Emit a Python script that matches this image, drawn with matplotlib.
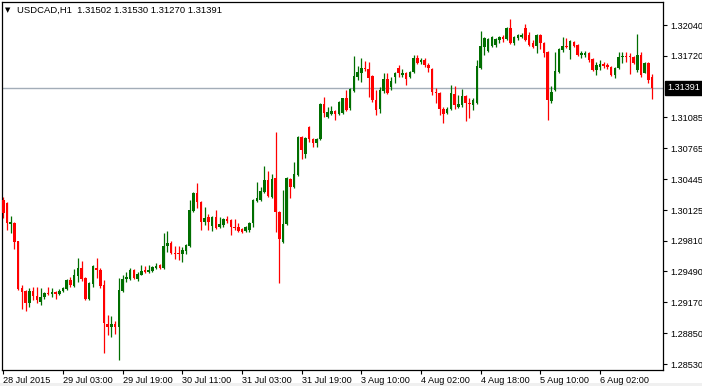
import numpy as np
import matplotlib
matplotlib.use("Agg")
import matplotlib.pyplot as plt
from matplotlib.transforms import blended_transform_factory
from matplotlib.patches import Rectangle

plt.rcParams['font.family'] = ['Liberation Sans', 'DejaVu Sans']

symbol_text = "USDCAD,H1  1.31502 1.31530 1.31270 1.31391"

opens = [1.3023, 1.3020, 1.2998, 1.2999, 1.2981, 1.2932, 1.2929, 1.2916, 1.2929, 1.2924,
         1.2917, 1.2923, 1.2927, 1.2926, 1.2928, 1.2926, 1.2929, 1.2931, 1.2940, 1.2934,
         1.2944, 1.2953, 1.2942, 1.2921, 1.2936, 1.2953, 1.2951, 1.2935, 1.2895, 1.2892,
         1.2895, 1.2892, 1.2929, 1.2941, 1.2941, 1.2951, 1.2941, 1.2945, 1.2951, 1.2948,
         1.2950, 1.2953, 1.2956, 1.2953, 1.2975, 1.2979, 1.2968, 1.2968, 1.2967, 1.2970,
         1.2975, 1.3012, 1.3030, 1.3021, 1.3000, 1.3005, 1.2996, 1.3005, 1.2995, 1.2997,
         1.3003, 1.3002, 1.2995, 1.2995, 1.2993, 1.2991, 1.2992, 1.2999, 1.3022, 1.3023,
         1.3031, 1.3044, 1.3026, 1.3046, 1.3011, 1.2980, 1.2998, 1.3045, 1.3036, 1.3049,
         1.3088, 1.3071, 1.3099, 1.3086, 1.3082, 1.3086, 1.3122, 1.3109, 1.3112, 1.3115,
         1.3112, 1.3113, 1.3128, 1.3118, 1.3136, 1.3150, 1.3154, 1.3160, 1.3159, 1.3151,
         1.3126, 1.3117, 1.3136, 1.3148, 1.3140, 1.3150, 1.3160, 1.3152, 1.3154, 1.3150,
         1.3155, 1.3170, 1.3166, 1.3168, 1.3163, 1.3159, 1.3135, 1.3134, 1.3117, 1.3113,
         1.3117, 1.3133, 1.3119, 1.3121, 1.3131, 1.3123, 1.3121, 1.3123, 1.3160, 1.3181,
         1.3177, 1.3182, 1.3183, 1.3188, 1.3192, 1.3190, 1.3201, 1.3185, 1.3191, 1.3192,
         1.3201, 1.3194, 1.3185, 1.3182, 1.3194, 1.3185, 1.3176, 1.3125, 1.3137, 1.3155,
         1.3178, 1.3182, 1.3178, 1.3186, 1.3183, 1.3173, 1.3173, 1.3175, 1.3169, 1.3157,
         1.3161, 1.3164, 1.3163, 1.3161, 1.3152, 1.3160, 1.3171, 1.3172, 1.3172, 1.3171,
         1.3157, 1.3173, 1.3154, 1.3165, 1.31502]

highs = [1.3026, 1.3021, 1.3006, 1.3000, 1.2981, 1.2935, 1.2930, 1.2932, 1.2933, 1.2933,
         1.2932, 1.2928, 1.2933, 1.2932, 1.2929, 1.2931, 1.2933, 1.2941, 1.2943, 1.2952,
         1.2963, 1.2960, 1.2943, 1.2938, 1.2956, 1.2963, 1.2953, 1.2940, 1.2904, 1.2903,
         1.2898, 1.2942, 1.2945, 1.2948, 1.2953, 1.2952, 1.2948, 1.2956, 1.2955, 1.2956,
         1.2955, 1.2958, 1.2957, 1.2989, 1.2991, 1.2981, 1.2975, 1.2975, 1.2974, 1.2977,
         1.3023, 1.3031, 1.3041, 1.3022, 1.3016, 1.3008, 1.3006, 1.3013, 1.3005, 1.3004,
         1.3006, 1.3003, 1.3003, 1.2999, 1.2994, 1.2996, 1.3000, 1.3024, 1.3042, 1.3036,
         1.3058, 1.3053, 1.3050, 1.3093, 1.3012, 1.3033, 1.3047, 1.3046, 1.3062, 1.3089,
         1.3089, 1.3088, 1.3100, 1.3087, 1.3087, 1.3123, 1.3130, 1.3119, 1.3120, 1.3116,
         1.3125, 1.3129, 1.3137, 1.3139, 1.3172, 1.3162, 1.3170, 1.3167, 1.3166, 1.3152,
         1.3137, 1.3140, 1.3154, 1.3154, 1.3150, 1.3155, 1.3163, 1.3158, 1.3155, 1.3156,
         1.3173, 1.3173, 1.3170, 1.3170, 1.3165, 1.3160, 1.3139, 1.3135, 1.3119, 1.3119,
         1.3142, 1.3141, 1.3132, 1.3138, 1.3132, 1.3128, 1.3128, 1.3168, 1.3198, 1.3192,
         1.3191, 1.3193, 1.3191, 1.3193, 1.3194, 1.3202, 1.3210, 1.3193, 1.3195, 1.3196,
         1.3205, 1.3197, 1.3188, 1.3195, 1.3195, 1.3186, 1.3177, 1.3141, 1.3176, 1.3180,
         1.3192, 1.3191, 1.3188, 1.3187, 1.3184, 1.3177, 1.3177, 1.3176, 1.3170, 1.3166,
         1.3168, 1.3166, 1.3165, 1.3162, 1.3161, 1.3176, 1.3176, 1.3176, 1.3175, 1.3172,
         1.3195, 1.3176, 1.3166, 1.3166, 1.31530]

lows = [1.3004, 1.2992, 1.2989, 1.2972, 1.2930, 1.2910, 1.2908, 1.2912, 1.2920, 1.2916,
        1.2914, 1.2921, 1.2925, 1.2923, 1.2921, 1.2925, 1.2928, 1.2930, 1.2933, 1.2933,
        1.2938, 1.2939, 1.2920, 1.2920, 1.2933, 1.2942, 1.2932, 1.2865, 1.2883, 1.2881,
        1.2884, 1.2857, 1.2928, 1.2938, 1.2940, 1.2941, 1.2939, 1.2945, 1.2947, 1.2947,
        1.2948, 1.2952, 1.2952, 1.2952, 1.2969, 1.2967, 1.2962, 1.2961, 1.2959, 1.2967,
        1.2974, 1.3011, 1.3015, 1.2992, 1.2997, 1.2992, 1.2991, 1.2993, 1.2994, 1.2995,
        1.2999, 1.2987, 1.2992, 1.2990, 1.2989, 1.2990, 1.2990, 1.2995, 1.3021, 1.3022,
        1.3030, 1.3026, 1.3025, 1.2990, 1.2937, 1.2979, 1.2997, 1.3025, 1.3035, 1.3048,
        1.3065, 1.3066, 1.3083, 1.3078, 1.3078, 1.3085, 1.3109, 1.3108, 1.3111, 1.3106,
        1.3111, 1.3112, 1.3115, 1.3116, 1.3135, 1.3147, 1.3145, 1.3156, 1.3130, 1.3124,
        1.3111, 1.3113, 1.3134, 1.3133, 1.3137, 1.3144, 1.3150, 1.3150, 1.3142, 1.3149,
        1.3154, 1.3164, 1.3164, 1.3161, 1.3155, 1.3132, 1.3123, 1.3111, 1.3103, 1.3112,
        1.3116, 1.3117, 1.3118, 1.3119, 1.3105, 1.3108, 1.3116, 1.3122, 1.3159, 1.3173,
        1.3176, 1.3181, 1.3181, 1.3185, 1.3186, 1.3189, 1.3184, 1.3183, 1.3188, 1.3191,
        1.3187, 1.3182, 1.3180, 1.3175, 1.3179, 1.3171, 1.3106, 1.3123, 1.3136, 1.3154,
        1.3176, 1.3180, 1.3169, 1.3181, 1.3172, 1.3170, 1.3171, 1.3166, 1.3156, 1.3152,
        1.3157, 1.3160, 1.3159, 1.3151, 1.3149, 1.3159, 1.3165, 1.3166, 1.3153, 1.3164,
        1.3155, 1.3150, 1.3154, 1.3144, 1.31270]

closes = [1.3010, 1.2999, 1.3000, 1.2980, 1.2931, 1.2928, 1.2916, 1.2929, 1.2924, 1.2919,
          1.2923, 1.2927, 1.2926, 1.2928, 1.2926, 1.2929, 1.2932, 1.2940, 1.2935, 1.2945,
          1.2953, 1.2941, 1.2921, 1.2937, 1.2955, 1.2951, 1.2934, 1.2896, 1.2892, 1.2895,
          1.2892, 1.2930, 1.2941, 1.2943, 1.2951, 1.2942, 1.2946, 1.2950, 1.2948, 1.2951,
          1.2954, 1.2955, 1.2953, 1.2975, 1.2979, 1.2968, 1.2967, 1.2967, 1.2971, 1.2976,
          1.3013, 1.3030, 1.3021, 1.3000, 1.3004, 1.3000, 1.3005, 1.2994, 1.2998, 1.3003,
          1.3001, 1.2995, 1.2994, 1.2991, 1.2990, 1.2995, 1.2999, 1.3023, 1.3025, 1.3032,
          1.3044, 1.3027, 1.3045, 1.3011, 1.2983, 1.2998, 1.3046, 1.3036, 1.3050, 1.3088,
          1.3075, 1.3087, 1.3086, 1.3082, 1.3086, 1.3122, 1.3113, 1.3114, 1.3115, 1.3112,
          1.3124, 1.3128, 1.3116, 1.3138, 1.3151, 1.3155, 1.3160, 1.3159, 1.3149, 1.3126,
          1.3116, 1.3137, 1.3148, 1.3134, 1.3146, 1.3154, 1.3154, 1.3154, 1.3148, 1.3155,
          1.3170, 1.3165, 1.3168, 1.3163, 1.3160, 1.3135, 1.3134, 1.3117, 1.3112, 1.3117,
          1.3134, 1.3121, 1.3122, 1.3131, 1.3123, 1.3122, 1.3126, 1.3162, 1.3182, 1.3191,
          1.3190, 1.3192, 1.3190, 1.3192, 1.3190, 1.3201, 1.3185, 1.3192, 1.3194, 1.3194,
          1.3188, 1.3183, 1.3181, 1.3194, 1.3185, 1.3175, 1.3126, 1.3135, 1.3156, 1.3179,
          1.3182, 1.3181, 1.3187, 1.3182, 1.3173, 1.3175, 1.3175, 1.3168, 1.3157, 1.3163,
          1.3164, 1.3162, 1.3161, 1.3152, 1.3160, 1.3171, 1.3172, 1.3171, 1.3171, 1.3165,
          1.3173, 1.3152, 1.3165, 1.3147, 1.31391]

tick_bar_index = [0, 16, 32, 48, 64, 80, 96, 112, 128, 144, 160]
tick_labels = ['28 Jul 2015', '29 Jul 03:00', '29 Jul 19:00', '30 Jul 11:00',
               '31 Jul 03:00', '31 Jul 19:00', '3 Aug 10:00', '4 Aug 02:00',
               '4 Aug 18:00', '5 Aug 10:00', '6 Aug 02:00']
price_ticks = [1.32040, 1.31720, 1.31085, 1.30765, 1.30445, 1.30125,
               1.29810, 1.29490, 1.29170, 1.28850, 1.28530]

o = np.array(opens); h = np.array(highs); l = np.array(lows); c = np.array(closes)
x = np.arange(len(o))
up = c >= o
bull_col = '#006e00'
bear_col = '#ff0000'
cols = np.where(up, bull_col, bear_col)

fig = plt.figure(figsize=(7.02, 3.86), dpi=100)
fig.patch.set_facecolor('white')
ax = fig.add_axes([2/702, 1 - 370/386, 661/702, 368/386])

# current price line
ax.axhline(c[-1], color='#a3adb8', lw=1.0, zorder=1)

ax.vlines(x, l, h, colors=cols, lw=0.9, zorder=2)
body_bottom = np.minimum(o, c)
body_h = np.maximum(np.abs(c - o), 0.00004)
ax.bar(x, body_h, bottom=body_bottom, width=0.68, color=cols, linewidth=0, zorder=3)

ax.set_xlim(-0.35, 176.9)
ax.set_ylim(1.28471, 1.32278)

ax.yaxis.tick_right()
ax.set_yticks(price_ticks)
ax.set_yticklabels([f"{v:.5f}" for v in price_ticks])
ax.tick_params(axis='y', direction='out', length=3, width=0.8, pad=2,
               labelsize=6.6, colors='black')
ax.set_xticks(tick_bar_index)
ax.set_xticklabels(tick_labels)
ax.tick_params(axis='x', direction='out', length=3, width=0.8, pad=1.5,
               labelsize=6.6, colors='black')
for lbl in ax.get_xticklabels():
    lbl.set_horizontalalignment('left')

for sp in ax.spines.values():
    sp.set_color('black')
    sp.set_linewidth(0.9)

# current price label
tr = blended_transform_factory(ax.transAxes, ax.transData)
ax.text(1.0 + 4/661, c[-1], f"{c[-1]:.5f}", transform=tr, color='white',
        fontsize=6.6, va='center', ha='left', clip_on=False,
        bbox=dict(boxstyle='square,pad=0.25', fc='black', ec='black'))

# symbol header
fig.text(5/702, 1 - 10/386, '\u25bc', fontsize=5, va='center', ha='left',
         family=['DejaVu Sans'])
fig.text(17/702, 1 - 10/386, symbol_text, fontsize=6.8, va='center', ha='left')

# light strip at bottom
fig.patches.append(Rectangle((0, 0), 1, 3/386, transform=fig.transFigure,
                             facecolor='#f0f0f0', edgecolor='none', zorder=-1))

fig.savefig('out.png', dpi=100)
